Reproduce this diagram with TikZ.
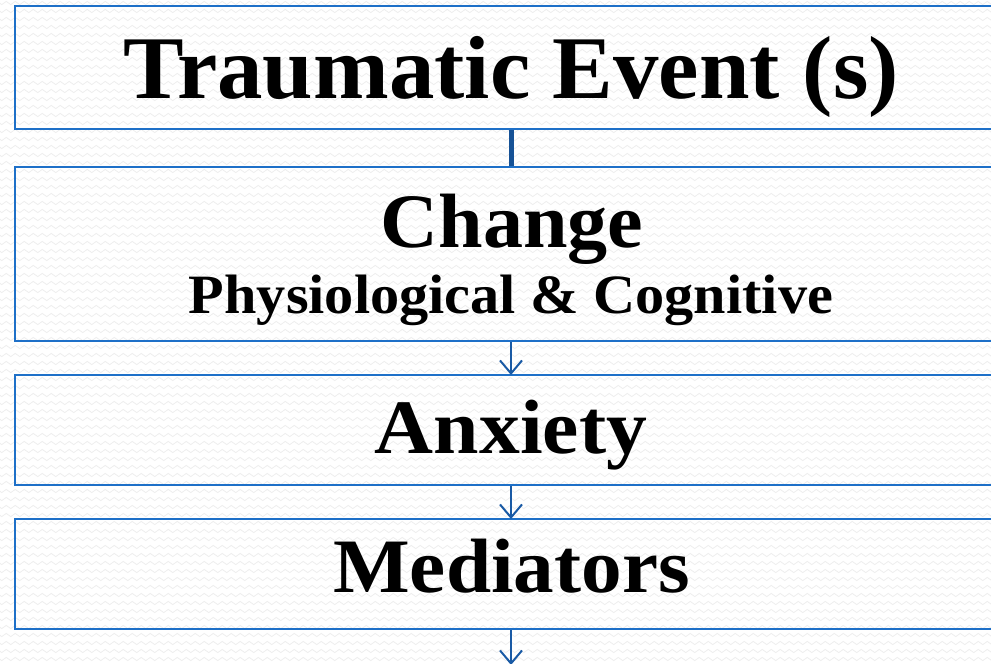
\documentclass[tikz,border=0pt]{standalone}
\usepackage{fontspec}
\setmainfont{Liberation Serif}
\usetikzlibrary{arrows.meta,decorations.pathmorphing}
\definecolor{boxblue}{RGB}{30,112,200}
\definecolor{linkblue}{RGB}{22,82,150}
\definecolor{arrowblue}{RGB}{25,90,165}
\definecolor{bgwave}{RGB}{238,238,238}
\tikzset{
  stagebox/.style={draw=boxblue, line width=2.5pt, rectangle, minimum width=992pt, inner sep=0pt, outer sep=0pt},
  title/.style={anchor=base, inner sep=0pt, font=\bfseries},
  flowarrow/.style={draw=arrowblue, line width=2pt, -{Straight Barb[length=13pt,width=22pt,line width=2pt]}},
  linkline/.style={draw=linkblue, line width=5pt}
}
\begin{document}
\begin{tikzpicture}[x=1pt,y=-1pt]
\clip (0,0) rectangle (991,664);
\fill[white] (0,0) rectangle (991,664);
\foreach \yy in {3,11,...,667}{
  \draw[bgwave, line width=0.8pt, decorate, decoration={zigzag, segment length=9pt, amplitude=1.6pt}] (-5,\yy) -- (1000,\yy);
}
\node[stagebox, minimum height=123pt] (b1) at (511,67.5) {};
\node[stagebox, minimum height=174pt] (b2) at (511,254) {};
\node[stagebox, minimum height=110pt] (b3) at (511,430) {};
\node[stagebox, minimum height=110pt] (b4) at (511,574) {};
\coordinate (end) at (511,664);

\node[title] (t1) at (511,98) {\scalebox{1.015}[1]{\fontsize{89.5}{100}\selectfont Traumatic Event (s)}};
\node[title] (t2) at (512,247) {\scalebox{1.04}[1]{\fontsize{77}{90}\selectfont Change}};
\node[title] (t2b) at (511,313) {\scalebox{1.05}[1]{\fontsize{55.5}{64}\selectfont Physiological \& Cognitive}};
\node[title] (t3) at (511,453) {\scalebox{1.06}[1]{\fontsize{77}{90}\selectfont Anxiety}};
\node[title] (t4) at (511.5,592) {\scalebox{1.055}[1]{\fontsize{77}{90}\selectfont Mediators}};

\draw[linkline] ([yshift=-1.2pt]b1.south) -- ([yshift=1.2pt]b2.north);
\draw[flowarrow] ([yshift=-1.2pt]b2.south) -- (b3.north);
\draw[flowarrow] ([yshift=-1.2pt]b3.south) -- (b4.north);
\draw[flowarrow] ([yshift=-1.2pt]b4.south) -- ([yshift=-1pt]end);
\end{tikzpicture}
\end{document}
